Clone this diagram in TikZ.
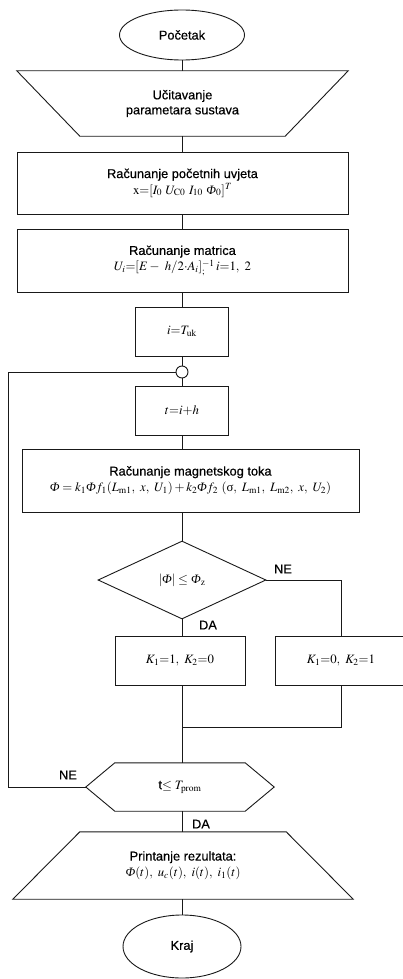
\documentclass[tikz,border=0pt]{standalone}
\usepackage[no-math]{fontspec}
\usepackage{mathptmx}
\setmainfont[FakeBold=0.5]{Liberation Sans}
\newfontfamily\tms{Liberation Serif}
\newcommand\myPhi{\mbox{\tms\itshape Φ}}
\newcommand\mysig{\mbox{\tms σ}}
\usetikzlibrary{shapes.geometric,calc}
\tikzset{
  txt/.style={font=\fontsize{12.8}{15}\selectfont},
  line/.style={line width=0.9pt,draw=black!90},
  box/.style={line, rectangle, inner sep=0pt, align=center, txt},
  ghost/.style={rectangle, inner sep=0pt, align=center, txt},
  term/.style={line, ellipse, inner sep=0pt, txt},
  cond/.style={line, diamond, inner sep=0pt, txt},
  lbl/.style={txt, inner sep=0pt},
  junc/.style={line, circle, fill=white, minimum size=12pt, inner sep=0pt}
}
\begin{document}
\begin{tikzpicture}[x=1pt,y=-1pt]
\useasboundingbox (0,0) rectangle (402,979);
% nodes
\node[term, minimum width=125pt, minimum height=50pt] (start) at (182,35) {Početak};
\node[ghost, minimum width=331pt, minimum height=65pt] (inp) at (182.5,103.5) {Učitavanje\\parametara sustava};
\node[box, minimum width=331pt, minimum height=62pt] (init) at (182.5,183) {Računanje početnih uvjeta\\[1pt] $\mathrm{x}{=}[I_0\ U_{\mathrm{C0}}\ I_{10}\ \myPhi_0]^T$};
\node[box, minimum width=331pt, minimum height=63pt] (matr) at (182.5,260.5) {Računanje matrica\\[1pt] $U_i{=}[E-\ h/2{\cdot}A_i]^{-1}_{;}\,i{=}1,\ 2$};
\node[box, minimum width=93pt, minimum height=49pt] (iT) at (182,331.5) {$i{=}T_{\mathrm{uk}}$};
\node[junc] (jc) at (182,372) {};
\node[box, minimum width=93pt, minimum height=49pt] (tih) at (182,410.5) {$t{=}i{+}h$};
\node[box, minimum width=337pt, minimum height=63pt] (mag) at (190.5,480.5) {Računanje magnetskog toka\\[1pt] $\myPhi = k_1\myPhi f_1(L_{\mathrm{m1}},\ x,\ U_1) + k_2\myPhi f_2\ (\mysig,\ L_{\mathrm{m1}},\ L_{\mathrm{m2}},\ x,\ U_2)$};
\node[cond, minimum width=168pt, minimum height=78pt] (dec) at (182,580) {$|\myPhi| \le \myPhi_{\mathrm{z}}$};
\node[box, minimum width=130pt, minimum height=49pt] (k1) at (180,660.5) {$K_1{=}1,\ K_2{=}0$};
\node[box, minimum width=132pt, minimum height=49pt] (k2) at (341,660.5) {$K_1{=}0,\ K_2{=}1$};
\coordinate (mrg) at (182,727);
\coordinate (mrgR) at (341,727);
\coordinate (decR) at (341,580);
\node[ghost, minimum width=188pt, minimum height=48pt] (hex) at (180,787) {t$\le T_{\mathrm{prom}}$};
\node[ghost, minimum width=340pt, minimum height=67pt] (prn) at (183,865.5) {Printanje rezultata:\\[1pt] $\myPhi(t),\ u_c(t),\ i(t),\ i_1(t)$};
\node[term, minimum width=118pt, minimum height=63pt] (stop) at (182,946.5) {Kraj};
\coordinate (loopB) at (8,787);
\coordinate (loopT) at (8,372);
% custom shapes
\draw[line] (inp.north west) -- (inp.north east) -- ($(inp.south east)+(-63,0)$) -- ($(inp.south west)+(63,0)$) -- cycle;
\draw[line] (hex.west) -- ($(hex.north west)+(29,0)$) -- ($(hex.north east)+(-29,0)$) -- (hex.east) -- ($(hex.south east)+(-29,0)$) -- ($(hex.south west)+(29,0)$) -- cycle;
\draw[line] ($(prn.north west)+(67,0)$) -- ($(prn.north east)+(-67,0)$) -- (prn.south east) -- (prn.south west) -- cycle;
% connectors
\draw[line] (start.south) -- (start.south |- inp.north);
\draw[line] (inp.south -| iT.north) -- (init.north -| iT.north);
\draw[line] (init.south -| iT.north) -- (matr.north -| iT.north);
\draw[line] (matr.south -| iT.north) -- (iT.north);
\draw[line] (iT.south) -- (jc.north);
\draw[line] (jc.south) -- (tih.north);
\draw[line] (tih.south) -- (tih.south |- mag.north);
\draw[line] (dec.north |- mag.south) -- (dec.north);
\draw[line] (dec.east) -- (decR) -- (k2.north);
\draw[line] (dec.south) -- (dec.south |- k1.north);
\draw[line] (dec.south |- k1.south) -- (mrg) -- (mrgR) -- (k2.south);
\draw[line] (mrg) -- (mrg |- hex.north);
\draw[line] (hex.west) -- (loopB) -- (loopT) -- (jc.west);
\draw[line] (mrg |- hex.south) -- (mrg |- prn.north);
\draw[line] (prn.south -| stop.north) -- (stop.north);
% labels
\node[lbl] (ne1) at (283,569) {NE};
\node[lbl] (da1) at (208,625) {DA};
\node[lbl] (ne2) at (68,775) {NE};
\node[lbl] (da2) at (201,824) {DA};
\end{tikzpicture}
\end{document}
